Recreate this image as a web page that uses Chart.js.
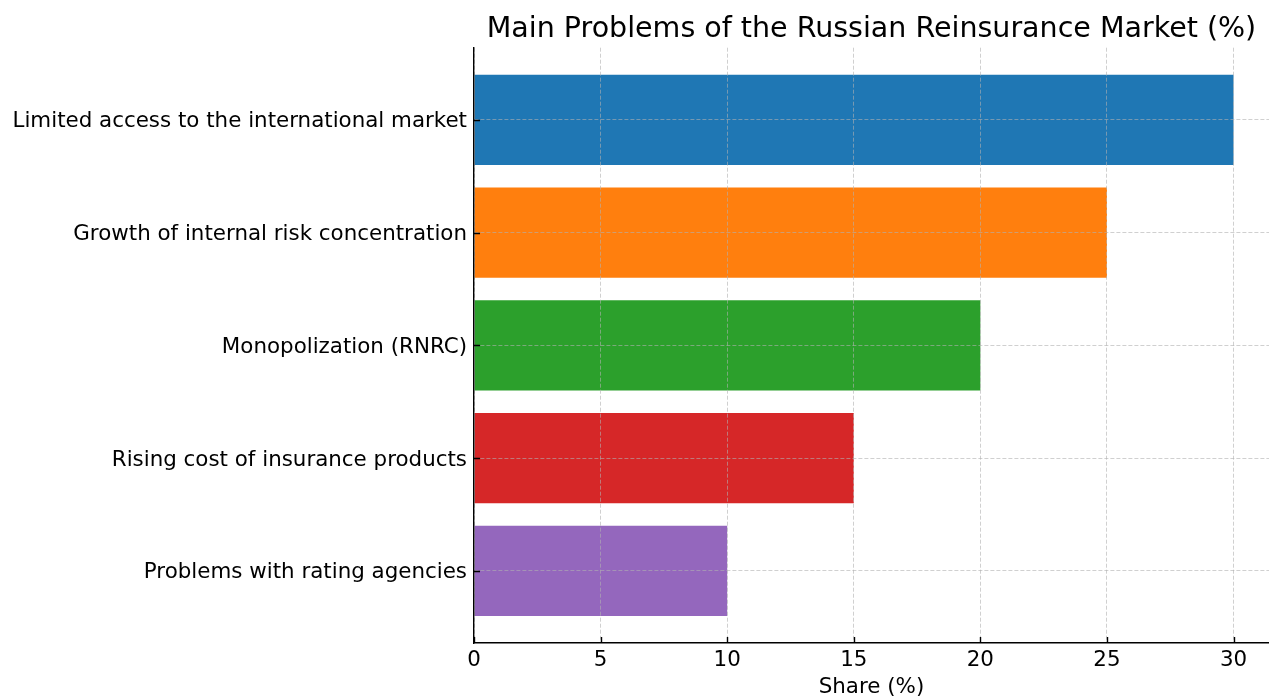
<!DOCTYPE html>
<html>
<head>
<meta charset="utf-8">
<script src="https://cdn.jsdelivr.net/npm/chart.js@4.4.1/dist/chart.umd.min.js"></script>
<style>
  html, body { margin: 0; padding: 0; background: #fff; }
  #wrap { width: 1269px; height: 697px; }
</style>
</head>
<body>
<div id="wrap"><canvas id="chart"></canvas></div>
<script>
// data
const categories = [
  "Limited access to the international market",
  "Growth of internal risk concentration",
  "Monopolization (RNRC)",
  "Rising cost of insurance products",
  "Problems with rating agencies"
];
const shares = [30, 25, 20, 15, 10];
const barColors = ["#1f77b4", "#ff7f0e", "#2ca02c", "#d62728", "#9467bd"];
const xTicks = [0, 5, 10, 15, 20, 25, 30];

const gridColor = "rgba(176,176,176,0.6)";
const font = "'DejaVu Sans', sans-serif";

// matplotlib style ticks pointing inward
const innerTicks = {
  id: "innerTicks",
  afterDraw(chart) {
    const { ctx, chartArea, scales } = chart;
    ctx.save();
    ctx.strokeStyle = "#000";
    ctx.lineWidth = 1.4;
    ctx.beginPath();
    xTicks.forEach(v => {
      const px = Math.round(scales.x.getPixelForValue(v)) + 0.5;
      ctx.moveTo(px, chartArea.bottom);
      ctx.lineTo(px, chartArea.bottom - 6);
    });
    categories.forEach((c, i) => {
      const py = Math.round(scales.y.getPixelForValue(i)) + 0.5;
      ctx.moveTo(chartArea.left, py);
      ctx.lineTo(chartArea.left + 6, py);
    });
    ctx.stroke();
    ctx.restore();
  }
};

new Chart(document.getElementById("chart"), {
  type: "bar",
  data: {
    datasets: [{
      data: shares.map((v, i) => ({ x: v, y: i })),
      backgroundColor: barColors,
      borderWidth: 0,
      categoryPercentage: 1,
      barPercentage: 0.8
    }]
  },
  options: {
    indexAxis: "y",
    responsive: true,
    maintainAspectRatio: false,
    animation: false,
    layout: { padding: { left: 0, right: 0, top: 0, bottom: 0 } },
    plugins: {
      legend: { display: false },
      tooltip: { enabled: false },
      title: {
        display: true,
        text: "Main Problems of the Russian Reinsurance Market (%)",
        fullSize: false,
        color: "#000",
        font: { family: font, size: 28.5, weight: "normal" },
        padding: { top: 12, bottom: 1.5 }
      }
    },
    scales: {
      x: {
        type: "linear",
        min: 0,
        max: 31.4,
        afterBuildTicks: s => { s.ticks = xTicks.map(v => ({ value: v })); },
        afterFit: s => { s.height = 54; },
        ticks: {
          color: "#000",
          padding: 5,
          font: { family: font, size: 21.4 }
        },
        grid: {
          z: 1,
          color: gridColor,
          lineWidth: 1,
          drawTicks: false
        },
        border: { display: true, color: "#000", width: 1.4, z: 2, dash: [4, 2] },
        title: {
          display: true,
          text: "Share (%)",
          color: "#000",
          font: { family: font, size: 21.4 },
          padding: { top: 0, bottom: -3 }
        }
      },
      y: {
        type: "linear",
        offset: false,
        min: -0.64,
        max: 4.64,
        reverse: true,
        afterBuildTicks: s => { s.ticks = categories.map((c, i) => ({ value: i })); },
        afterFit: s => { s.width = 474; },
        ticks: {
          color: "#000",
          padding: 7,
          labelOffset: 2,
          font: { family: font, size: 21.4 },
          callback: v => categories[v]
        },
        grid: {
          z: 1,
          offset: false,
          color: gridColor,
          lineWidth: 1,
          drawTicks: false
        },
        border: { display: true, color: "#000", width: 1.4, z: 2, dash: [4, 2] }
      }
    }
  },
  plugins: [innerTicks]
});
</script>
</body>
</html>
